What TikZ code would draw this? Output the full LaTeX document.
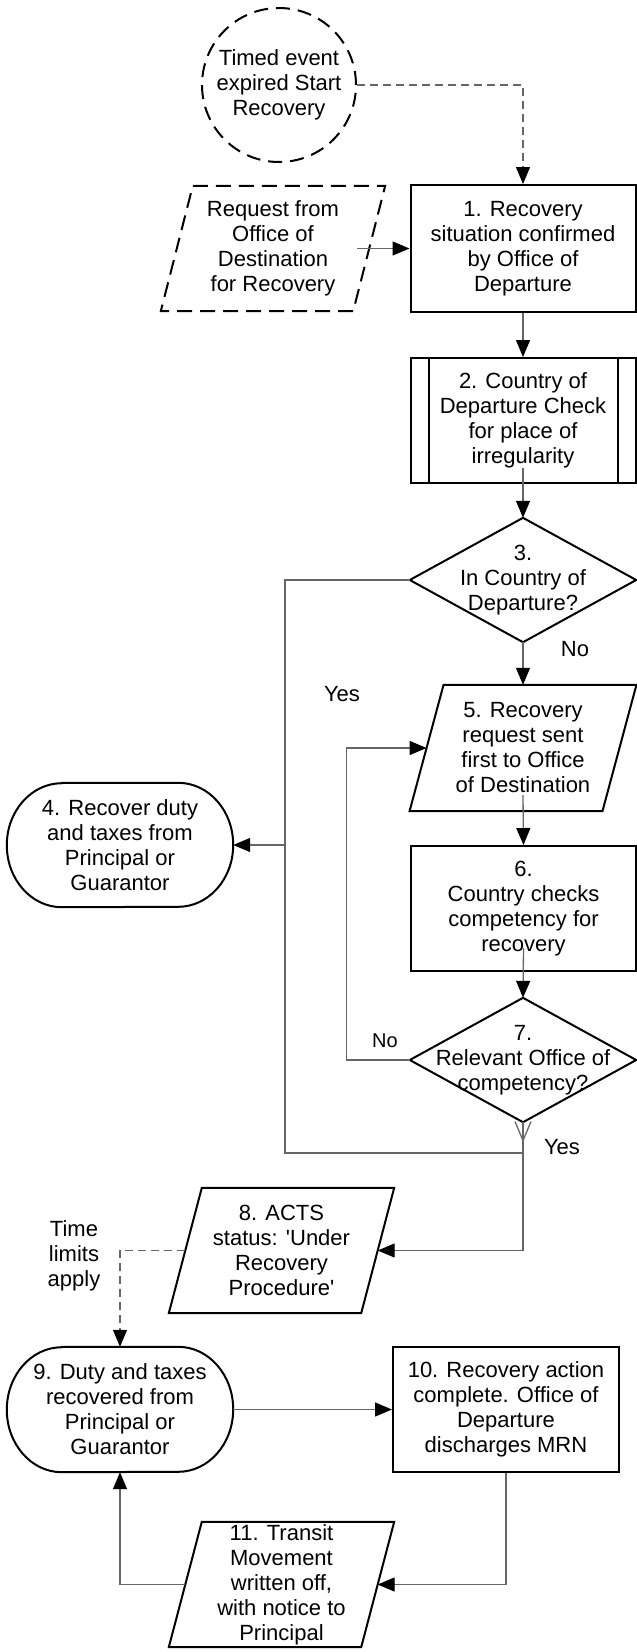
\documentclass[tikz,border=0pt]{standalone}
\usepackage{fontspec}
\setmainfont{Liberation Sans}
\usetikzlibrary{arrows.meta}
\begin{document}
\begin{tikzpicture}[x=1pt,y=-1pt,
  txt/.style={inner sep=0pt, align=center, font=\fontsize{22}{25}\selectfont},
  boxnode/.style={txt, draw, line width=2pt, minimum width=225pt, minimum height=125pt},
  shapeline/.style={line width=2pt, line join=miter},
  conn/.style={black!60, line width=1.3pt},
  tip/.style={-{Triangle[length=17pt,width=14pt,color=black]}},
  dconn/.style={conn, dash pattern=on 8pt off 5pt},
  lbl/.style={inner sep=0pt, align=center, font=\fontsize{22}{25}\selectfont}
]
\fill[white] (0,0) rectangle (637,1652);
\useasboundingbox (0,0) rectangle (637,1652);

% start event
\node[txt, draw, circle, line width=2pt, dash pattern=on 14pt off 8pt, minimum size=154pt] (start) at (279,85) {Timed event\\expired Start\\Recovery};

% request (dashed parallelogram)
\node[txt, minimum width=192pt, minimum height=125pt] (req) at (273,248.5) {Request from\\Office of\\Destination\\for Recovery};
\draw[shapeline, dash pattern=on 15pt off 8pt] ([xshift=16pt]req.north west) -- ([xshift=16pt]req.north east) -- ([xshift=-16pt]req.south east) -- ([xshift=-16pt]req.south west) -- cycle;

% 1
\node[boxnode, minimum height=127pt] (b1) at (523,248.5) {1. Recovery\\situation confirmed\\by Office of\\Departure};

% 2
\node[boxnode] (b2) at (523,420.5) {2. Country of\\Departure Check\\for place of\\irregularity};
\draw[shapeline] ([xshift=19pt]b2.north west) -- ([xshift=19pt]b2.south west);
\draw[shapeline] ([xshift=-19pt]b2.north east) -- ([xshift=-19pt]b2.south east);

% 3
\node[txt, minimum width=226pt, minimum height=124pt] (d3) at (523,580) {3.\\In Country of\\Departure?};
\draw[shapeline] (d3.north) -- (d3.east) -- (d3.south) -- (d3.west) -- cycle;

% 4
\node[txt, minimum width=226pt, minimum height=124pt] (n4) at (120,845) {4. Recover duty\\and taxes from\\Principal or\\Guarantor};
\draw[shapeline] ([xshift=55pt]n4.north west) -- ([xshift=-55pt]n4.north east) arc[start angle=90,end angle=-90,x radius=55pt,y radius=62pt] -- ([xshift=55pt]n4.south west) arc[start angle=270,end angle=90,x radius=55pt,y radius=62pt] -- cycle;

% 5
\node[txt, minimum width=192.5pt, minimum height=126pt] (p5) at (523,748) {5. Recovery\\request sent\\first to Office\\of Destination};
\draw[shapeline] ([xshift=17pt]p5.north west) -- ([xshift=17pt]p5.north east) -- ([xshift=-17pt]p5.south east) -- ([xshift=-17pt]p5.south west) -- cycle;

% 6
\node[boxnode] (b6) at (523.5,908.5) {6.\\Country checks\\competency for\\recovery};

% 7
\node[txt, minimum width=226pt, minimum height=124pt] (d7) at (523,1060) {7.\\Relevant Office of\\competency?};
\draw[shapeline] (d7.north) -- (d7.east) -- (d7.south) -- (d7.west) -- cycle;

% 8
\node[txt, minimum width=192pt, minimum height=125pt] (p8) at (281.5,1250.5) {8. ACTS\\status: \textquotesingle Under\\Recovery\\Procedure\textquotesingle};
\draw[shapeline] ([xshift=16.5pt]p8.north west) -- ([xshift=16.5pt]p8.north east) -- ([xshift=-16.5pt]p8.south east) -- ([xshift=-16.5pt]p8.south west) -- cycle;

% 9
\node[txt, minimum width=226pt, minimum height=125pt] (n9) at (120,1409.5) {9. Duty and taxes\\recovered from\\Principal or\\Guarantor};
\draw[shapeline] ([xshift=55pt]n9.north west) -- ([xshift=-55pt]n9.north east) arc[start angle=90,end angle=-90,x radius=55pt,y radius=62.5pt] -- ([xshift=55pt]n9.south west) arc[start angle=270,end angle=90,x radius=55pt,y radius=62.5pt] -- cycle;

% 10
\node[boxnode, minimum width=226pt] (b10) at (506,1409.5) {10. Recovery action\\complete. Office of\\Departure\\discharges MRN};

% 11
\node[txt, minimum width=192pt, minimum height=125pt] (p11) at (281.5,1584.5) {11. Transit\\Movement\\written off,\\with notice to\\Principal};
\draw[shapeline] ([xshift=16.5pt]p11.north west) -- ([xshift=16.5pt]p11.north east) -- ([xshift=-16.5pt]p11.south east) -- ([xshift=-16.5pt]p11.south west) -- cycle;

% labels
\node[lbl] (no3) at (575,649) {No};
\node[lbl] (yes3) at (342,694) {Yes};
\node[lbl, font=\fontsize{20}{24}\selectfont] (no7) at (385,1041) {No};
\node[lbl] (yes7) at (562,1147) {Yes};
\node[lbl] (tl) at (74,1256) {Time\\limits\\apply};

% connectors
\coordinate (yc) at (285,1153);
\coordinate (j7) at (523,1153);

\draw[dconn,tip] (start.east) -| (b1.north);
\draw[conn,tip] ([xshift=-12pt]req.east) -- (b1.west);
\draw[conn,tip] (b1.south) -- (b2.north);
\draw[conn,tip] ([yshift=16pt]b2.south) -- (d3.north);
\draw[conn,tip] (d3.south) -- (p5.north);
\draw[conn] (d3.west) -| (yc) -- (j7);
\draw[conn,tip] (yc |- n4.east) -- (n4.east);
\draw[conn,tip] ([yshift=16pt]p5.south) -- (b6.north);
\draw[conn,tip] ([yshift=24pt]b6.south) -- (d7.north);
\draw[conn,tip] (d7.west) -- ++(-63,0) |- (p5.west);
\draw[conn, -{Straight Barb[length=19pt,width=16pt]}] (d7.south) -- ++(0,20);
\draw[conn,tip] (d7.south) -- (d7.south |- p8.east) -- (p8.east);
\draw[dconn,tip] (p8.west) -| (n9.north);
\draw[conn,tip] (n9.east) -- (b10.west);
\draw[conn,tip] (b10.south) |- (p11.east);
\draw[conn,tip] (p11.west) -| (n9.south);
\end{tikzpicture}
\end{document}
